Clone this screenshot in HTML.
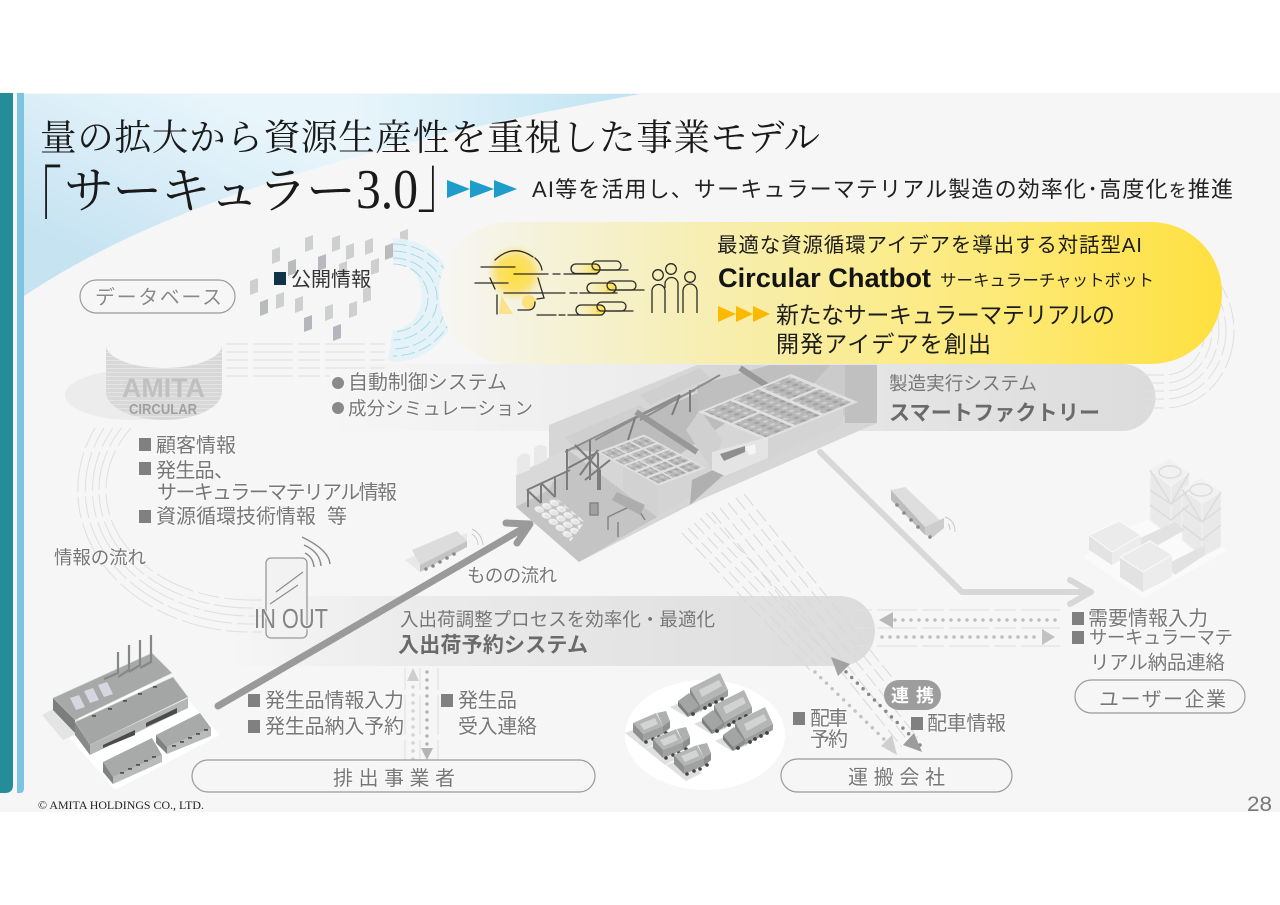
<!DOCTYPE html>
<html lang="ja">
<head>
<meta charset="utf-8">
<title>サーキュラー3.0</title>
<style>
html,body{margin:0;padding:0;background:#fff}
svg{display:block}
text{font-family:"Liberation Sans","Noto Sans CJK JP",sans-serif}
.g{fill:#777;font-size:20px;paint-order:stroke;stroke:#fff;stroke-width:1.5px;stroke-opacity:.7}
.n{font-size:18.5px}
.b{fill:#6a6a6a;font-size:21px;font-weight:700}
.y{fill:#1c1c1c}
.s{font-family:"Liberation Serif","Noto Serif CJK JP","Noto Serif CJK SC",serif;fill:#1a1a1a}
.d{fill:none;stroke:#dfdfdf;stroke-width:1;stroke-dasharray:22 5 40 5}
.e{fill:none;stroke:#d8d8d8;stroke-width:1;stroke-dasharray:15 5}
.a{fill:none;stroke:#a5dbe3;stroke-width:1;stroke-dasharray:14 4}
</style>
</head>
<body>
<svg xmlns="http://www.w3.org/2000/svg" width="1280" height="905" viewBox="0 0 1280 905">
<defs>
<linearGradient id="sw" x1="200" y1="94" x2="120" y2="270" gradientUnits="userSpaceOnUse"><stop offset="0" stop-color="#e8f5fb"/><stop offset="1" stop-color="#c6e3f2"/></linearGradient>
<linearGradient id="sw2" x1="350" y1="0" x2="640" y2="0" gradientUnits="userSpaceOnUse"><stop offset="0" stop-color="#c3e5f3" stop-opacity="0"/><stop offset="1" stop-color="#bfe3f2"/></linearGradient>
<linearGradient id="yel" x1="440" y1="0" x2="1222" y2="0" gradientUnits="userSpaceOnUse"><stop offset="0" stop-color="#f6f6f4"/><stop offset=".12" stop-color="#f5f2dc"/><stop offset=".35" stop-color="#f7eeb0"/><stop offset=".7" stop-color="#fdea7a"/><stop offset="1" stop-color="#ffe040"/></linearGradient>
<linearGradient id="p1" x1="320" y1="0" x2="1155" y2="0" gradientUnits="userSpaceOnUse"><stop offset="0" stop-color="#f6f6f6"/><stop offset=".4" stop-color="#ececec"/><stop offset="1" stop-color="#dcdcdc"/></linearGradient>
<linearGradient id="p2" x1="225" y1="0" x2="875" y2="0" gradientUnits="userSpaceOnUse"><stop offset="0" stop-color="#f6f6f6"/><stop offset=".3" stop-color="#ebebeb"/><stop offset="1" stop-color="#dcdcdc"/></linearGradient>
<radialGradient id="head" cx=".5" cy=".5" r=".5"><stop offset="0" stop-color="#ffdf3c"/><stop offset=".6" stop-color="#fbe06a"/><stop offset="1" stop-color="#fbe06a" stop-opacity="0"/></radialGradient>
<linearGradient id="pl" x1="0" y1="0" x2="1" y2="0"><stop offset="0" stop-color="#f8f2c4" stop-opacity=".2"/><stop offset="1" stop-color="#ffdd3a"/></linearGradient>
<pattern id="stripe" width="6" height="4" patternUnits="userSpaceOnUse"><rect width="6" height="4" fill="#d8d8d8"/><rect y="0" width="6" height="1" fill="#e4e4e4"/></pattern>
<pattern id="drums" width="100" height="100" patternUnits="userSpaceOnUse" patternTransform="matrix(.075,-.033,.07,.062,532,508)"><ellipse cx="50" cy="50" rx="46" ry="46" fill="#f0f0f0"/><circle cx="50" cy="66" r="30" fill="#d8d8d8" opacity=".45"/></pattern>
<pattern id="rub" width="14" height="10" patternUnits="userSpaceOnUse"><rect width="14" height="10" fill="#b8b8b8"/><circle cx="4" cy="3" r="2.600" fill="#a2a2a2"/><circle cx="10.500" cy="7" r="2.400" fill="#cfcfcf"/></pattern>
<path id="r" d="M-4-6 4-9V5L-4 8Z"/>
<g id="tb">
<path d="M-8 34 9 44 25 38 10 26Z" fill="#dedede"/>
<path d="M12 15 42 0 50 17 22 32Z" fill="#b4b6b5"/><path d="M21 17 41 7 44 13 24 24Z" fill="#d2d2d2"/>
<path d="M22 32 50 17V23L22 38Z" fill="#9c9e9d"/><path d="M12 15 22 32V38L12 24Z" fill="#8b8d8c"/>
<path d="M0 28 11 20 21 33 10 40Z" fill="#a3a5a4"/><path d="M0 28 10 40V44L0 33Z" fill="#7c7e7d"/><path d="M10 40 21 33V38L10 44Z" fill="#8e908f"/>
<g fill="#444"><circle cx="15" cy="41" r="1.900"/><circle cx="27" cy="35" r="1.900"/><circle cx="32" cy="32" r="1.900"/><circle cx="38" cy="29" r="1.900"/><circle cx="44" cy="26" r="1.900"/></g>
</g>
<g id="ts">
<path d="M-8 22 12 38 28 30 8 16Z" fill="#e0e0e0"/>
<path d="M0 12 23 2 30 15 10 23Z" fill="#b4b6b5"/><path d="M7 13 22 7 25 13 11 19Z" fill="#d4d4d4"/>
<path d="M0 12 10 23V31L0 21Z" fill="#8f9190"/><path d="M10 23 30 15V23L10 31Z" fill="#a0a2a1"/>
<path d="M24 2 33 0 37 10 30 15Z" fill="#aeb0af"/><path d="M30 15 37 10V17L30 23Z" fill="#8e908f"/>
<g fill="#444"><circle cx="13" cy="31" r="1.800"/><circle cx="20" cy="28" r="1.800"/><circle cx="26" cy="26" r="1.800"/><circle cx="33" cy="22" r="1.800"/></g>
</g>
<g id="win" fill="#555"><rect x="0" y="0" width="4" height="1.800"/></g>
</defs>

<rect width="1280" height="905" fill="#fff"/>
<rect y="93" width="1280" height="719" fill="#f6f6f6"/>

<!-- top swoosh -->
<path d="M24 94H640C300 155 130 225 24 296Z" fill="url(#sw)"/>
<path d="M24 94H640C300 155 130 225 24 296Z" fill="url(#sw2)"/>

<!-- side bars -->
<path d="M0 93H13V785Q13 793 5 793H0Z" fill="#258c99"/>
<path d="M17 93H24V788Q24 793 20 793H17Z" fill="#7cc4df"/>

<!-- database mosaic -->
<g fill="#cdd0ce">
<use href="#r" x="276" y="256"/><use href="#r" x="309" y="244"/><use href="#r" x="336" y="244"/><use href="#r" x="350" y="252"/><use href="#r" x="369" y="247"/><use href="#r" x="389" y="252" fill="#b9bcba"/><use href="#r" x="404" y="238"/>
<use href="#r" x="292" y="268" fill="#b9bcba"/><use href="#r" x="322" y="263" fill="#b9b9c2"/><use href="#r" x="343" y="270"/><use href="#r" x="375" y="267"/>
<use href="#r" x="254" y="287"/><use href="#r" x="264" y="308" fill="#b9bcba"/><use href="#r" x="280" y="301"/><use href="#r" x="299" y="305"/><use href="#r" x="329" y="313"/><use href="#r" x="353" y="310"/><use href="#r" x="367" y="295"/>
<use href="#r" x="308" y="324" fill="#b5b5bd"/><use href="#r" x="337" y="333" fill="#b5b5bd"/>
</g>

<!-- blue ring -->
<path d="M393 238A63 62 0 0 1 393 362L388 360 393 330A28 33 0 0 0 393 262Z" fill="#e3f3f9" opacity=".9"/>
<g class="a">
<path d="M393 244A57 52 0 0 1 393 356"/><path d="M393 251A50 46 0 0 1 393 349"/><path d="M393 258A42 39 0 0 1 393 340"/><path d="M393 264A34 33 0 0 1 393 332"/>
</g>

<!-- gray system pills -->
<path d="M320 364H1122A33.500 33.500 0 0 1 1122 431H320Z" fill="url(#p1)"/>
<path d="M225 596H840A35 35 0 0 1 840 666H225Z" fill="url(#p2)"/>

<!-- flows -->
<g class="d">
<path d="M226 344H385"/><path d="M226 352H385"/><path d="M226 360H385"/><path d="M226 368H385"/><path d="M226 376H330"/>
<path d="M95 428A172 142 0 0 0 250 632H262"/>
<path d="M104 428A165 134 0 0 0 250 624H262"/>
<path d="M113 428A158 126 0 0 0 250 616H262"/>
<path d="M121.500 428A151 118 0 0 0 250 608H262"/>
<path d="M131 428A144 110 0 0 0 250 600H262"/>
<path d="M1142 375H1165A40 45 0 0 0 1205 330A40 45 0 0 0 1193 298"/>
<path d="M1142 383H1165A47 53 0 0 0 1212 330A47 53 0 0 0 1198 293"/>
<path d="M1142 391H1165A54 61 0 0 0 1219 330A54 61 0 0 0 1203 287"/>
<path d="M1142 399H1165A61 69 0 0 0 1226 330A61 69 0 0 0 1208 282"/>
<path d="M1142 408H1165A69 78 0 0 0 1234 330A69 78 0 0 0 1213 275"/>
<path d="M850 610H1060"/><path d="M850 628H1060"/><path d="M850 646H1060"/>
<path d="M405 668V778"/><path d="M420 668V778"/><path d="M438 668V778"/>
</g>
<g class="e">
<path d="M682 533 810 670"/><path d="M688 528 816 665"/><path d="M694 523 822 660"/><path d="M700 518 828 655"/><path d="M706 513 834 650"/>
<path d="M712 512 902 747"/><path d="M720 508 910 743"/><path d="M728 503 918 738"/><path d="M736 498 900 701"/><path d="M744 494 895 681"/>
</g>

<!-- big flow arrows -->
<g fill="none" stroke-linecap="round" stroke-linejoin="round">
<path d="M218 706 529 525" stroke="#9a9a9a" stroke-width="7"/>
<path d="M506 523 530 524 517 543" stroke="#9a9a9a" stroke-width="7"/>
<path d="M820 452 962 592H1090" stroke="#d8d8d8" stroke-width="6"/>
<path d="M1070 580 1091 592 1070 604" stroke="#d8d8d8" stroke-width="6"/>
</g>

<!-- dotted arrows -->
<g fill="none" stroke-linecap="round" stroke-width="3.500" stroke-dasharray="0 8">
<path d="M1055 620H892" stroke="#bdbdbd"/><path d="M882 637H1042" stroke="#bdbdbd"/>
<path d="M413 775V682" stroke="#d2d2d2"/><path d="M427 672V748" stroke="#b4b4b4"/>
<path d="M920 745 842 668" stroke="#888"/><path d="M815 672 890 745" stroke="#c2c2c2"/>
</g>
<g>
<path d="M879 620 893 612V628Z" fill="#b9b9b9"/><path d="M1055 637 1042 629V645Z" fill="#c2c2c2"/>
<path d="M413 668 407 681H419Z" fill="#cfcfcf"/><path d="M427 760 421 748H433Z" fill="#b4b4b4"/>
<path d="M831 657 850 664 838 676Z" fill="#a2a2a2"/><path d="M922 752 903 745 914 733Z" fill="#9c9c9c"/>
<path d="M897 755 881 746 892 735Z" fill="#cfcfcf"/>
</g>

<!-- database cylinder -->
<ellipse cx="132" cy="395" rx="67" ry="25" fill="#ececec"/>
<path d="M106 345V392A58 28 0 0 0 222 392V345Z" fill="url(#stripe)"/>
<ellipse cx="164" cy="345" rx="58" ry="23" fill="#f6f6f6"/>
<text x="122" y="397" font-size="27" font-weight="700" fill="#c0c0c0" textLength="83" lengthAdjust="spacingAndGlyphs">AMITA</text>
<text x="129" y="414" font-size="14.500" font-weight="700" fill="#a0a0a0" textLength="68" lengthAdjust="spacingAndGlyphs">CIRCULAR</text>

<!-- smart factory -->
<polygon points="549,425 697,365 877,365 877,423 700,500 579,562 516,507 516,475 549,460" fill="#d6d6d6"/>
<polygon points="800,365 877,365 877,423 850,423" fill="#cbcbcb"/>
<rect x="845" y="365" width="32" height="58" fill="#c0c0c0"/>
<polygon points="516,507 549,490 567,449 657,517 579,562" fill="#c4c4c4"/>
<polygon points="567,449 700,392 730,420 657,470 623,462 597,452" fill="#bcbcbc"/>
<polygon points="697,385 770,365 830,365 795,405 698,412" fill="#bfbfbf"/>
<polygon points="516,475 567,448 570,470 516,507" fill="#d9d9d9"/>
<polygon points="565,437 640,405 650,413 575,448" fill="#cfcfcf"/>
<polygon points="640,395 700,368 710,378 650,405" fill="#cfcfcf"/>
<g fill="none" stroke="#8e8e8e" stroke-width="2">
<path d="M565 452 680 395"/><path d="M610 430 695 390"/><path d="M640 420 720 375"/><path d="M595 440 660 405"/>
</g>
<g fill="none" stroke="#7c7c7c" stroke-width="2">
<path d="M635 418 628 440"/><path d="M680 395 672 415"/><path d="M690 390 690 412"/><path d="M567 449V490"/><path d="M590 440V480"/><path d="M568 468 598 452 598 490"/>
<path d="M527 490 570 470"/><path d="M528 507V490"/><path d="M541 503V483"/><path d="M555 497V476"/>
<path d="M580 475 598 450M585 480 610 460M527 490 541 503M541 483 555 497M575 445 600 470M600 470V490"/>
</g>
<path d="M517 475V458Q524 450 530 456V470Z" fill="#e9e9e9"/><path d="M534 466V448Q541 442 547 448V460Z" fill="#e9e9e9"/>
<!-- grid rooms block -->
<polygon points="623,462 657,487 657,517 623,490" fill="#d2d2d2"/>
<polygon points="657,487 843,403 843,425 700,490 657,517" fill="#d4d4d4"/>
<polygon points="692,480 760,448 720,478 690,505" fill="#b0b0b0"/>
<g transform="matrix(.47,-.175,.62,.335,597,452)">
<rect width="100" height="100" fill="#e0e0e0"/>
<g fill="url(#rub)">
<rect x="4" y="4" width="28" height="18"/><rect x="36" y="4" width="28" height="18"/><rect x="68" y="4" width="28" height="18"/>
<rect x="4" y="26" width="28" height="14"/><rect x="36" y="26" width="28" height="14"/><rect x="68" y="26" width="28" height="14"/>
<rect x="4" y="44" width="28" height="14"/><rect x="36" y="44" width="28" height="14"/><rect x="68" y="44" width="28" height="14"/>
<rect x="4" y="62" width="28" height="14"/><rect x="36" y="62" width="28" height="14"/><rect x="68" y="62" width="28" height="14"/>
<rect x="4" y="80" width="28" height="16"/><rect x="36" y="80" width="28" height="16"/><rect x="68" y="80" width="28" height="16"/>
</g>
</g>
<polygon points="686,430 700,410 722,440 712,470" fill="#d0d0d0"/>
<path d="M636 412 697 452" stroke="#989898" stroke-width="6"/>
<path d="M740 368 793 403" stroke="#989898" stroke-width="6"/>
<g transform="matrix(.93,-.38,.67,.28,698,412)">
<rect width="100" height="100" fill="#e0e0e0"/>
<g fill="url(#rub)"><rect x="4" y="4" width="28" height="40"/><rect x="36" y="4" width="26" height="92"/><rect x="66" y="4" width="30" height="40"/><rect x="66" y="48" width="30" height="48"/><rect x="4" y="48" width="28" height="48"/></g>
</g>
<polygon points="712,452 768,437 768,458 725,476 712,470" fill="#e4e4e4"/>
<polygon points="720,454 745,446 745,452 724,461" fill="#8e8e8e"/>
<polygon points="745,447 755,444 756,453 749,455" fill="#f5f5f5"/>
<polygon points="532,508 555,497 585,522 570,542" fill="url(#drums)"/>
<g fill="none" stroke="#858585" stroke-width="1.500"><path d="M608 530V517L635 504 645 520"/><path d="M618 537V522"/><path d="M590 503H598V515H590Z" fill="#a0a0a0"/></g>
<path d="M617 492 645 505 640 515 612 500Z" fill="#adadad"/>

<!-- yellow pill -->
<path d="M510 222H1151A71 71 0 0 1 1151 364H510A71 71 0 0 1 510 222Z" fill="url(#yel)"/>

<!-- chatbot icon -->
<circle cx="515" cy="273" r="28" fill="url(#head)"/>
<path d="M501 295 513 314H499Z" fill="#fbe28a"/>
<circle cx="529" cy="302" r="7" fill="#fbe27a"/>
<g fill="none" stroke="#2a2a24" stroke-width="1.300" stroke-linecap="round">
<path d="M481 267H515M514 274H548M553 274H560M564 274H597M475 283H508M504 293H565M570 293H577M580 293H617M497 295V314M518 310H528Q535 310 535 302M537 315H556M559 315H565M568 315H602"/>
<path d="M495 260Q513 243 533 257M535 258Q541 263 542 270M538 278 544 298 537 299M490 278 495 289"/>
<path d="M592 270H628M607 290H644M597 311H633"/>
</g>
<g stroke="#2a2a24" stroke-width="1.300" fill="url(#pl)">
<rect x="571" y="264" width="29" height="9.500" rx="4.700"/><rect x="587" y="283" width="29" height="10" rx="5"/><rect x="576" y="305" width="29" height="10" rx="5"/>
</g>
<g stroke="#2a2a24" stroke-width="1.300" fill="none">
<rect x="592" y="261" width="29" height="9" rx="4.500"/><rect x="607" y="281" width="29" height="9" rx="4.500"/><rect x="597" y="302" width="29" height="9" rx="4.500"/>
<circle cx="658" cy="275" r="5.300"/><circle cx="671" cy="269" r="5.300"/><circle cx="690" cy="277" r="5.300"/>
<path d="M652 313V291A6.500 6.500 0 0 1 665 291V313M665 288V284A6.500 6.500 0 0 1 678 284V313M683 313V291A6.700 6.700 0 0 1 697 291V313"/>
</g>

<!-- yellow pill text -->
<text class="y" x="717" y="252" font-size="20.500" textLength="425">最適な資源循環アイデアを導出する対話型AI</text>
<text x="718" y="287" font-size="27" font-weight="700" fill="#141414" textLength="213" lengthAdjust="spacingAndGlyphs">Circular Chatbot</text>
<text class="y" x="940" y="286" font-size="16.500" textLength="214">サーキュラーチャットボット</text>
<path d="M718 306 736 314 718 322ZM736 306 753 314 736 322ZM753 306 770 314 753 322Z" fill="#fbb900"/>
<text class="y" x="776" y="323" font-size="23" textLength="339">新たなサーキュラーマテリアルの</text>
<text class="y" x="776" y="352" font-size="23" textLength="215">開発アイデアを創出</text>

<!-- titles -->
<text class="s" x="40" y="150" font-size="36.500" textLength="780">量の拡大から資源生産性を重視した事業モデル</text>
<text class="s" transform="translate(13,235) scale(1,1.7)" font-size="49">「</text>
<text class="s" x="64" y="208" font-size="50" textLength="292">サーキュラー</text>
<text class="s" x="356" y="208" font-size="56" textLength="62" lengthAdjust="spacingAndGlyphs">3.0</text>
<text class="s" transform="translate(417,206) scale(1,1.45)" font-size="49">」</text>
<path d="M447 180 470 189 447 198ZM470 180 494 189 470 198ZM494 180 517 189 494 198Z" fill="#1f9dca"/>
<text x="532" y="197" font-size="22" fill="#222" textLength="701">AI等を活用し、サーキュラーマテリアル製造の効率化･高度化<tspan font-size="18">を</tspan>推進</text>

<!-- pills -->
<g fill="#f6f6f6" stroke="#9a9a9a" stroke-width="1.200">
<rect x="80" y="280" width="155" height="33" rx="16.500"/>
<rect x="192" y="760" width="403" height="32" rx="16"/>
<rect x="781" y="759" width="231" height="33" rx="16.500"/>
<rect x="1075" y="680" width="170" height="33" rx="16.500"/>
</g>
<text class="g" x="95" y="304" style="fill:#8a8a8a" textLength="127">データベース</text>
<text class="g" x="333" y="785" textLength="122">排出事業者</text>
<text class="g" x="848" y="784" textLength="97">運搬会社</text>
<text class="g" x="1099" y="706" textLength="127">ユーザー企業</text>

<!-- public info -->
<rect x="274" y="272" width="12" height="13" fill="#0f3347"/>
<text x="291" y="286" font-size="20" fill="#333" textLength="80">公開情報</text>

<!-- system labels -->
<circle cx="338" cy="383" r="6" fill="#8a8a8a"/><circle cx="338" cy="408" r="6" fill="#8a8a8a"/>
<text class="g" x="348" y="389" textLength="159">自動制御システム</text>
<text class="g n" x="348" y="415" textLength="185">成分シミュレーション</text>
<text class="g n" x="889" y="390" style="stroke:none" textLength="148">製造実行システム</text>
<text class="b" x="889" y="420" textLength="211">スマートファクトリー</text>

<!-- db info -->
<g fill="#808080">
<rect x="139" y="438" width="12" height="13"/><rect x="139" y="462" width="12" height="13"/><rect x="139" y="510" width="12" height="13"/>
<rect x="248" y="694" width="12" height="13"/><rect x="248" y="720" width="12" height="13"/><rect x="441" y="694" width="12" height="13"/>
<rect x="793" y="712" width="12" height="13"/><rect x="911" y="717" width="12" height="13"/>
<rect x="1072" y="612" width="12" height="13"/><rect x="1072" y="631" width="12" height="13"/>
</g>
<text class="g" x="156" y="452" textLength="80">顧客情報</text>
<text class="g" x="156" y="477" textLength="78">発生品、</text>
<text class="g" x="157" y="499" textLength="240">サーキュラーマテリアル情報</text>
<text class="g" x="156" y="523" textLength="191">資源循環技術情報&#160;&#160;等</text>
<text class="g n" x="54" y="564" textLength="92">情報の流れ</text>
<text class="g n" x="467" y="582" textLength="90">ものの流れ</text>

<!-- phone -->
<rect x="266" y="558" width="41" height="80" rx="5" fill="#f2f2f2" stroke="#999" stroke-width="1.300"/>
<path d="M276 592 303 572M270 604 298 585" stroke="#8c8c8c" stroke-width="1.200" fill="none"/>
<path d="M302 537Q329 550 330 564M304 545Q320 552 321 566M305 553Q313 557 314 567" fill="none" stroke="#8c8c8c" stroke-width="1.500"/>
<text x="254" y="628" font-size="28" fill="#848484" textLength="74" lengthAdjust="spacingAndGlyphs" style="paint-order:stroke;stroke:#f4f4f4;stroke-width:2px">IN OUT</text>

<!-- in/out text -->
<text class="g n" x="400" y="626" style="stroke:none" textLength="315">入出荷調整プロセスを効率化・最適化</text>
<text class="b" x="398" y="652" textLength="190">入出荷予約システム</text>
<text class="g" x="265" y="707" textLength="139">発生品情報入力</text>
<text class="g" x="265" y="733" textLength="139">発生品納入予約</text>
<text class="g" x="458" y="707" textLength="59">発生品</text>
<text class="g" x="458" y="733" textLength="79">受入連絡</text>
<text class="g" x="810" y="725" textLength="38">配車</text>
<text class="g" x="810" y="746" textLength="38">予約</text>
<text class="g" x="927" y="730" textLength="79">配車情報</text>
<text class="g" x="1088" y="625" textLength="120">需要情報入力</text>
<text class="g" x="1089" y="644" style="font-size:18.500px" textLength="144">サーキュラーマテ</text>
<text class="g" x="1090" y="669" style="font-size:19.500px" textLength="135">リアル納品連絡</text>
<rect x="884" y="680" width="57" height="30" rx="15" fill="#9d9d9d"/>
<text x="891" y="702" font-size="18" font-weight="700" fill="#fff" textLength="43">連携</text>

<!-- emitter factory -->
<polygon points="48,713 115,790 220,735 170,680" fill="#fff"/>
<polygon points="42,715 63,740 90,728 60,705" fill="#e4e4e4"/>
<polygon points="97,678 152,653 153,662 118,678" fill="#858786"/>
<polygon points="53,698 152,653 172,673 75,720" fill="#a7a9a8" stroke="#d5d5d5" stroke-width=".6"/>
<polygon points="53,698 75,720 75,733 53,710" fill="#7c7e7d"/>
<polygon points="75,722 173,677 188,697 90,745" fill="#a4a6a5" stroke="#d5d5d5" stroke-width=".6"/>
<polygon points="75,722 90,745 90,755 75,735" fill="#888a89"/>
<polygon points="90,745 188,698 188,708 90,755" fill="#b5b7b6"/>
<polygon points="103,745 135,730 135,735 103,748" fill="#4b4b4b"/>
<polygon points="146,723 177,708 177,713 146,727" fill="#4b4b4b"/>
<g fill="#d6d6e0">
<polygon points="70,698 79,695 85,707 76,710"/><polygon points="84,691 93,688 99,700 90,703"/><polygon points="98,685 107,682 113,694 104,697"/>
</g>
<g fill="none" stroke="#868887" stroke-width="2.200">
<path d="M118 652V673L104 679"/><path d="M129 645V670L118 677"/><path d="M140 640V665L129 672"/><path d="M151 635V662L140 668"/>
</g>
<use href="#win" x="92" y="715"/><use href="#win" x="108" y="708"/><use href="#win" x="123" y="700"/><use href="#win" x="138" y="693"/><use href="#win" x="153" y="686"/>
<polygon points="103,762 152,738 162,755 113,777" fill="#a8aaa9"/>
<polygon points="103,762 113,777 113,784 103,772" fill="#808281"/>
<polygon points="113,777 162,755 162,762 113,784" fill="#b9bbba"/>
<polygon points="156,735 200,713 211,728 167,747" fill="#a8aaa9"/>
<polygon points="156,735 167,747 167,754 156,743" fill="#808281"/>
<polygon points="167,747 211,728 211,736 167,754" fill="#b9bbba"/>
<g><use href="#win" x="120" y="772"/><use href="#win" x="128" y="768"/><use href="#win" x="136" y="764"/><use href="#win" x="144" y="760"/><use href="#win" x="152" y="756"/>
<use href="#win" x="172" y="745"/><use href="#win" x="180" y="741"/><use href="#win" x="188" y="737"/><use href="#win" x="196" y="733"/><use href="#win" x="204" y="729"/></g>

<!-- transport trucks -->
<ellipse cx="705" cy="735" rx="80" ry="55" fill="#fff"/>
<use href="#tb" x="678" y="673"/><use href="#tb" x="702" y="690"/><use href="#tb" x="723" y="707"/>
<use href="#ts" x="633" y="711"/><use href="#ts" x="653" y="727"/><use href="#ts" x="674" y="743"/>

<!-- user plant -->
<polygon points="1083,557 1143,598 1228,550 1160,515 1110,535" fill="#fafafa"/>
<g fill="#e9e9e9" stroke="#f4f4f4" stroke-width="1">
<polygon points="1150,470 1171,486 1171,537 1150,520"/>
<polygon points="1171,486 1189,473 1189,517 1171,537"/>
<polygon points="1150,470 1169,459 1189,473 1171,486" fill="#f1f1f1"/>
<polygon points="1182,489 1202,503 1202,557 1182,540"/>
<polygon points="1202,503 1221,492 1221,547 1202,557"/>
<polygon points="1182,489 1201,478 1221,492 1202,503" fill="#f1f1f1"/>
</g>
<g fill="none" stroke="#dcdcdc" stroke-width="1.500">
<path d="M1150 490 1171 504 1189 490M1150 505 1171 520 1189 505M1182 508 1202 522 1221 508M1182 525 1202 540 1221 525"/>
<path d="M1150 470 1171 504M1182 489 1202 522M1189 473 1171 504M1221 492 1202 522"/>
<ellipse cx="1170" cy="472" rx="11" ry="6"/><ellipse cx="1201" cy="490" rx="11" ry="6"/>
</g>
<polygon points="1125,545 1175,522 1185,530 1140,555" fill="#e2e2e2"/>
<polygon points="1165,565 1205,545 1205,555 1175,575" fill="#e2e2e2"/>
<polygon points="1089,535 1112,552 1112,565 1089,550" fill="#e3e3e3"/>
<polygon points="1112,552 1141,535 1141,548 1112,565" fill="#ececec"/>
<polygon points="1089,535 1119,521 1141,535 1112,552" fill="#ebebeb" stroke="#fafafa" stroke-width="1"/>
<polygon points="1120,557 1143,572 1143,592 1120,577" fill="#e2e2e2"/>
<polygon points="1143,572 1172,555 1172,577 1143,592" fill="#ececec"/>
<polygon points="1120,557 1150,541 1172,555 1143,572" fill="#ebebeb" stroke="#fafafa" stroke-width="1"/>

<!-- moving trucks -->
<polygon points="405,560 467,533 467,543 420,572" fill="#e8e8e8"/>
<polygon points="412,550 457,531 467,541 420,565" fill="#dcdcdc"/>
<polygon points="420,565 467,541 467,547 420,572" fill="#c4c4c4"/>
<g fill="#8a8a8a"><circle cx="426" cy="569" r="1.800"/><circle cx="433" cy="566" r="1.800"/><circle cx="440" cy="562" r="1.800"/><circle cx="447" cy="558" r="1.800"/><circle cx="454" cy="554" r="1.800"/></g>
<path d="M472 529Q482 534 483 545M472 534Q478 538 478 545" fill="none" stroke="#c8c8c8" stroke-width="1"/>
<polygon points="891,490 905,487 940,520 925,527" fill="#dedede"/>
<polygon points="891,490 925,527 925,535 891,500" fill="#bdbdbd"/>
<polygon points="925,527 944,518 944,528 933,537 925,535" fill="#cdcdcd"/>
<g fill="#8a8a8a"><circle cx="897" cy="505" r="1.800"/><circle cx="904" cy="513" r="1.800"/><circle cx="911" cy="520" r="1.800"/><circle cx="918" cy="527" r="1.800"/><circle cx="930" cy="537" r="1.800"/></g>
<path d="M945 517Q955 520 955 532M948 524Q950 526 950 530" fill="none" stroke="#c8c8c8" stroke-width="1"/>

<!-- footer -->
<text class="s" x="38" y="809" font-size="12" textLength="166" lengthAdjust="spacingAndGlyphs" style="fill:#222">© AMITA HOLDINGS CO., LTD.</text>
<text x="1247" y="811" font-size="21" fill="#777" textLength="25" lengthAdjust="spacingAndGlyphs">28</text>
</svg>
</body>
</html>
